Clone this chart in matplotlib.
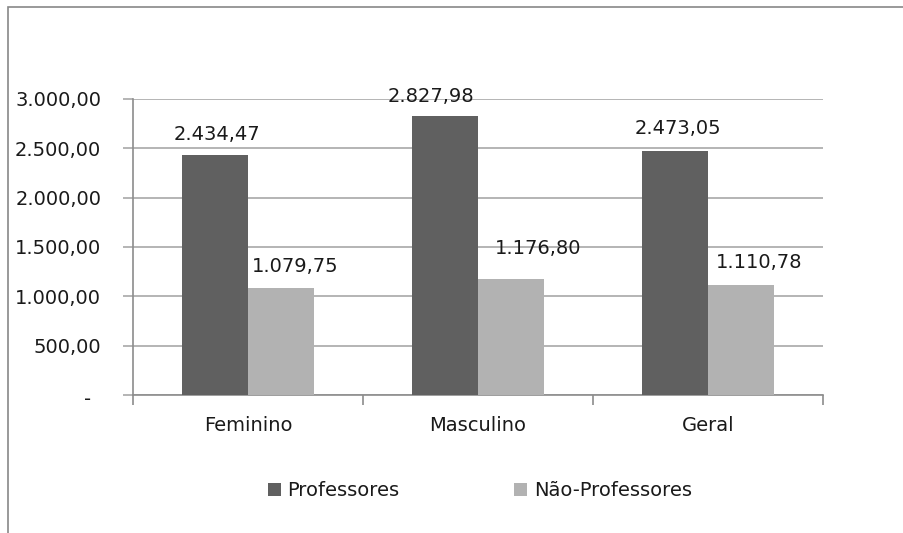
import matplotlib
matplotlib.use("Agg")
import matplotlib.pyplot as plt
import numpy as np
from matplotlib.patches import Rectangle, Patch
from matplotlib.transforms import ScaledTranslation

categories = ["Feminino", "Masculino", "Geral"]
series_names = ["Professores", "Não-Professores"]
professores = [2434.47, 2827.98, 2473.05]
nao_professores = [1079.75, 1176.80, 1110.78]
yticks = [0, 500, 1000, 1500, 2000, 2500, 3000]
ytick_labels = ["-", "500,00", "1.000,00", "1.500,00", "2.000,00", "2.500,00", "3.000,00"]

def fmt(v):
    s = f"{v:,.2f}"
    return s.replace(",", "X").replace(".", ",").replace("X", ".")

plt.rcParams['font.family'] = ['DejaVu Sans']
FS = 14

W, H = 904, 533
fig = plt.figure(figsize=(W / 100, H / 100), dpi=100)
ax = fig.add_axes([133 / W, 1 - 395 / H, (823 - 133) / W, (395 - 99) / H])

dark = "#606060"
light = "#b2b2b2"
gridc = "#a8a8a8"
axc = "#8c8c8c"
txtc = "#1a1a1a"

x = np.arange(len(categories))
bw = 0.287
ax.bar(x - bw / 2, professores, bw, color=dark, zorder=3)
ax.bar(x + bw / 2, nao_professores, bw, color=light, zorder=3)

ax.set_xlim(-0.5, 2.5)
ax.set_ylim(0, 3000)
ax.set_yticks(yticks)
ax.set_yticklabels(ytick_labels, fontsize=FS, color=txtc)
ax.yaxis.grid(True, color=gridc, linewidth=1.2, zorder=0)
ax.tick_params(axis='y', length=7, width=1.2, color=gridc, pad=22 / 1.39)

ax.set_xticks(x)
ax.set_xticklabels(categories, fontsize=FS, color=txtc)
ax.set_xticks([-0.5, 0.5, 1.5, 2.5], minor=True)
ax.tick_params(axis='x', which='major', length=0, pad=15)
ax.tick_params(axis='x', which='minor', length=7, width=1.2, color=axc)

for s in ["top", "right"]:
    ax.spines[s].set_visible(False)
for s in ["left", "bottom"]:
    ax.spines[s].set_color(axc)
    ax.spines[s].set_linewidth(1.2)

# shift "-" label left (accounting format padding)
for lab in ax.get_yticklabels():
    if lab.get_text() == "-":
        lab.set_transform(lab.get_transform() + ScaledTranslation(-10 / 100, -2 / 100, fig.dpi_scale_trans))

# data labels (manual offsets in pixels, as in source chart)
off1 = [(2, 20), (-14, 19), (3, 22)]
off2 = [(14, 22), (27, 30), (18, 23)]
for i, v in enumerate(professores):
    ax.annotate(fmt(v), (x[i] - bw / 2, v), xytext=off1[i], textcoords='offset pixels',
                ha='center', va='center', fontsize=FS, color=txtc)
for i, v in enumerate(nao_professores):
    ax.annotate(fmt(v), (x[i] + bw / 2, v), xytext=off2[i], textcoords='offset pixels',
                ha='center', va='center', fontsize=FS, color=txtc)

handles = [Patch(facecolor=dark), Patch(facecolor=light)]
fig.legend(handles, series_names, loc='center', bbox_to_anchor=(480 / W, 1 - 491 / H),
           ncol=2, frameon=False, fontsize=FS, handlelength=0.65, handleheight=0.65,
           handletextpad=0.35, columnspacing=5.9, labelcolor=txtc)

# chart border (top and left visible)
fig.patches.append(Rectangle((8 / W, -0.1), 2, 1 - 7 / H + 0.1, transform=fig.transFigure,
                             fill=False, edgecolor="#888888", linewidth=1.2))

fig.savefig("out.png", dpi=100)
